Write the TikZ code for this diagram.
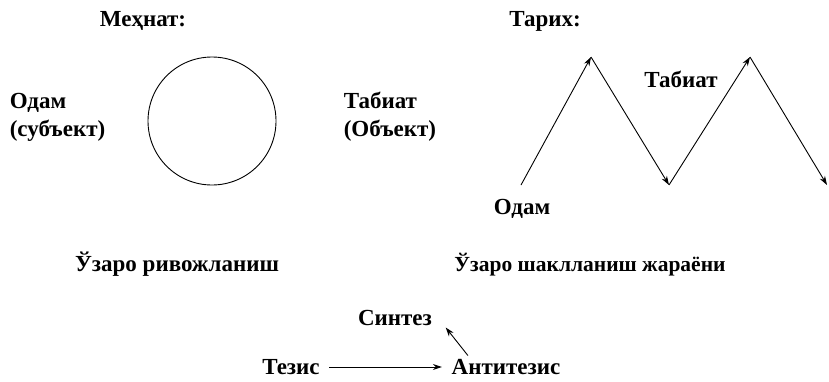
\documentclass[tikz,border=0pt]{standalone}
\usepackage{fontspec}
\setmainfont{Liberation Serif}
\usetikzlibrary{arrows.meta,positioning}

\begin{document}
\begin{tikzpicture}[x=1pt,y=-1pt,>={Stealth[length=9pt,width=6pt]},line width=0.9pt,
                    every node/.style={font=\fontsize{23}{28}\selectfont\bfseries}]
  \useasboundingbox (0,0) rectangle (829,381);

  % mehnat
  \node (mehnat) at (143,21) {Меҳнат:};
  \node[circle,draw,minimum size=128pt,inner sep=0pt] (krug) at (212,121) {};
  \node[anchor=west,align=left] (odam) at (6,117) {Одам\\(субъект)};
  \node[anchor=west,align=left] (tabiat) at (340,117) {Табиат\\(Объект)};
  \node (rivoj) at (177,264) {Ўзаро ривожланиш};

  % tarix
  \node (tarix) at (545,21) {Тарих:};
  \coordinate (z0) at (521,185);
  \coordinate (z1) at (591,57);
  \coordinate (z2) at (669,185);
  \coordinate (z3) at (750,57);
  \coordinate (z4) at (827,185);
  \draw[->] (z0) -- (z1);
  \draw[->] (z1) -- (z2);
  \draw[->] (z2) -- (z3);
  \draw[->] (z3) -- (z4);
  \node (tabiat2) at (681,79) {Табиат};
  \node (odam2) at (522,209) {Одам};
  \node[font=\fontsize{21.5}{26}\selectfont\bfseries] (shakl) at (590,265) {Ўзаро шаклланиш жараёни};

  % tezis
  \node (tezis) at (291,367) {Тезис};
  \node (anti) at (506,367) {Антитезис};
  \node (sintez) at (395,318) {Синтез};
  \path[->] (tezis) edge[shorten <=6pt,shorten >=6pt] (anti)
            ([xshift=20pt]anti.north west) edge ([xshift=10pt,yshift=2pt]sintez.south east);
\end{tikzpicture}
\end{document}
